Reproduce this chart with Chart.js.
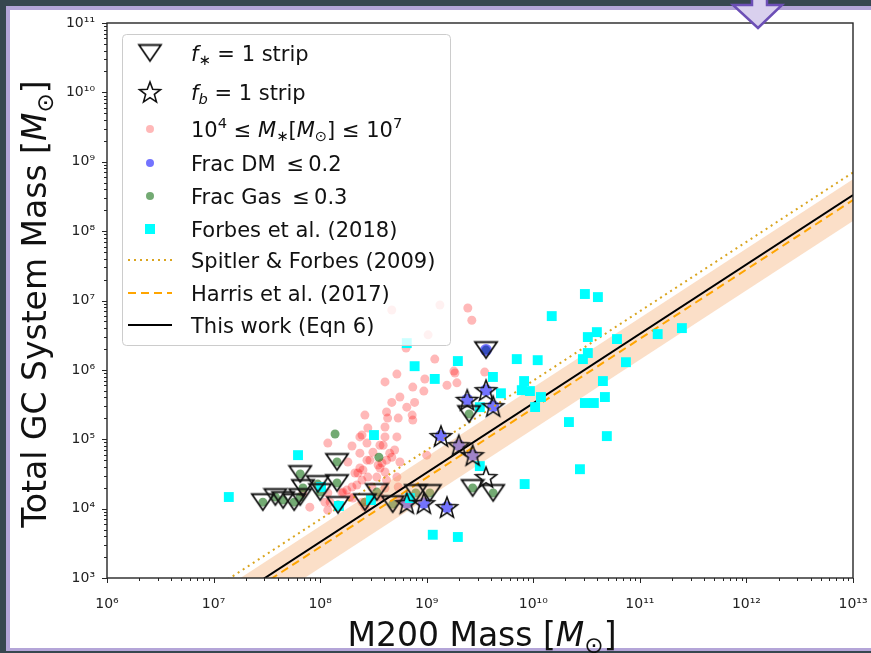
<!DOCTYPE html>
<html>
<head>
<meta charset="utf-8">
<script src="https://cdn.jsdelivr.net/npm/chart.js@4.4.1/dist/chart.umd.min.js"></script>
<style>
  html, body { margin: 0; padding: 0; }
  body { width: 871px; height: 653px; background: #37474f; position: relative; overflow: hidden; }
  #rim { position: absolute; left: 6px; top: 6px; width: 865px; height: 645px; background: #b4a5d8; }
  #panel { position: absolute; left: 10px; top: 10px; width: 861px; height: 638px; background: #fff; }
  #chart { position: absolute; left: 0; top: 0; }
  #arrow { position: absolute; left: 0; top: 0; }
</style>
</head>
<body>
<div id="rim"></div>
<div id="panel"></div>
<canvas id="chart" width="871" height="653"></canvas>
<svg id="arrow" width="871" height="40"><polygon points="752,-4 752,5 733,5 758,28 782,5 767,5 767,-4" fill="#d9d0ee" stroke="#6c4fb6" stroke-width="2.5"/></svg>
<script>
// decades shown on each axis and their labels
const xTickExps = [6, 7, 8, 9, 10, 11, 12, 13];
const xTickLabels = ['10⁶', '10⁷', '10⁸', '10⁹', '10¹⁰', '10¹¹', '10¹²', '10¹³'];
const yTickExps = [3, 4, 5, 6, 7, 8, 9, 10, 11];
const yTickLabels = ['10³', '10⁴', '10⁵', '10⁶', '10⁷', '10⁸', '10⁹', '10¹⁰', '10¹¹'];

// f* = 1 strip (triangles)
const stripStarM200 = [2.9e7, 3.8e7, 4.5e7, 5.7e7, 6.5e7, 6.5e7, 6.9e7, 9.5e7, 1.0e8, 1.44e8, 1.44e8, 1.47e8, 2.63e8, 3.4e8, 4.8e8, 7.9e8, 1.07e9, 3.6e9, 2.5e9, 2.7e9, 4.2e9];
const stripStarMgc = [1.24e4, 1.47e4, 1.33e4, 1.24e4, 1.47e4, 3.15e4, 1.98e4, 2.26e4, 1.73e4, 4.7e4, 2.34e4, 1.13e4, 1.24e4, 1.73e4, 1.16e4, 1.68e4, 1.68e4, 1.93e6, 2.31e5, 1.98e4, 1.68e4];

// fb = 1 strip (stars)
const stripBaryM200 = [3.6e9, 2.4e9, 4.2e9, 1.36e9, 2.0e9, 2.7e9, 3.6e9, 6.5e8, 9.4e8, 1.55e9];
const stripBaryMgc = [5.1e5, 3.7e5, 3.0e5, 1.11e5, 8.2e4, 5.9e4, 2.85e4, 1.2e4, 1.2e4, 1.05e4];

// 1e4 <= M* <= 1e7
const dwarfM200 = [2.43e9, 2.65e9, 1.33e9, 4.7e8, 1.03e9, 6.4e8, 1.19e9, 5.25e8, 4.06e8, 9.6e8,
  7.4e8, 1.84e9, 1.55e9, 1.92e9, 3.5e9, 5.6e8, 4.7e8, 7.7e8, 6.5e8, 4.2e8,
  2.63e8, 4.3e8, 7.3e8, 7.4e8, 2.8e8, 4.06e8, 2.36e8, 4.06e8, 5.25e8, 1.18e8,
  1.99e8, 2.75e8, 3.64e8, 2.36e8, 3.13e8, 4.2e8, 2.75e8, 3.64e8, 2.36e8, 2.8e8,
  3.4e8, 4.06e8, 2.47e8, 4.2e8, 5.25e8, 5.6e8, 5.0e8, 2.12e8, 3.06e8, 1.99e8,
  4.06e8, 5.4e8, 1.6e8, 1.18e8, 2.03e8, 3.64e8, 1.24e8, 5.6e8, 2.63e8, 1.18e8,
  6.9e7, 8.0e7, 4.5e8, 2.47e8, 3.9e8, 2.52e8, 1.82e8, 2.93e8, 3.5e8, 2.21e8,
  1.9e8, 1.64e8, 2.47e8, 3.8e8, 4.7e8, 9.4e8, 5.4e8, 1.8e9, 1.78e8, 1.11e8,
  1.0e9, 2.26e8];
const dwarfMgc = [7.8e6, 5.2e6, 8.6e6, 7.3e6, 3.2e6, 2.06e6, 1.43e6, 8.7e5, 6.7e5, 7.4e5,
  5.65e5, 9.0e5, 6.0e5, 6.5e5, 9.3e5, 4.06e5, 3.4e5, 3.4e5, 2.9e5, 2.47e5,
  2.23e5, 2.02e5, 2.23e5, 1.89e5, 1.45e5, 1.5e5, 1.08e5, 1.08e5, 1.08e5, 8.8e4,
  8.0e4, 8.8e4, 8.2e4, 6.3e4, 6.5e4, 5.0e4, 5.0e4, 3.85e4, 3.85e4, 2.85e4,
  2.85e4, 3.37e4, 2.58e4, 2.58e4, 2.85e4, 4.7e4, 7.0e4, 3.26e4, 2.05e4, 2.05e4,
  1.98e4, 2.05e4, 1.68e4, 1.68e4, 1.42e4, 1.47e4, 1.24e4, 1.33e4, 1.05e4, 9.5e3,
  1.68e4, 1.05e4, 6.3e4, 1.15e5, 8.2e4, 3.6e4, 4.7e4, 5.0e4, 4.25e4, 2.19e4,
  1.47e4, 1.73e4, 1.24e4, 4.54e4, 5.5e4, 4.95e5, 2.02e5, 9.6e5, 1.85e4, 1.24e4,
  5.9e4, 3.26e4];

// Frac DM <= 0.2
const lowDmM200 = [3.6e9, 2.4e9, 4.2e9, 1.36e9, 2.0e9, 2.7e9, 6.5e8, 9.4e8, 1.55e9, 3.6e9];
const lowDmMgc = [5.1e5, 3.7e5, 3.0e5, 1.11e5, 8.2e4, 5.9e4, 1.2e4, 1.2e4, 1.05e4, 1.93e6];

// Frac Gas <= 0.3
const lowGasM200 = [2.9e7, 3.8e7, 4.5e7, 5.7e7, 6.5e7, 6.5e7, 6.9e7, 9.5e7, 1.0e8, 1.44e8, 1.44e8, 1.47e8, 2.63e8, 3.4e8, 4.8e8, 7.9e8, 1.07e9, 3.6e9, 2.5e9, 2.7e9, 4.2e9, 1.38e8, 3.56e8];
const lowGasMgc = [1.24e4, 1.47e4, 1.33e4, 1.24e4, 1.47e4, 3.15e4, 1.98e4, 2.26e4, 1.73e4, 4.7e4, 2.34e4, 1.13e4, 1.24e4, 1.73e4, 1.16e4, 1.68e4, 1.68e4, 1.93e6, 2.31e5, 1.98e4, 1.68e4, 1.19e5, 5.5e4];

// Forbes et al. (2018)
const forbesM200 = [1.39e7, 6.2e7, 1.02e8, 1.5e8, 3.0e8, 3.2e8, 6.95e8, 7.7e8, 1.19e9, 1.96e9,
  6.5e8, 4.18e9, 3.15e9, 4.97e9, 7.0e9, 1.1e10, 3.15e9, 1.14e9, 1.96e9, 3.05e10,
  4.04e10, 1.49e10, 3.95e10, 3.25e10, 6.1e10, 1.47e11, 2.48e11, 3.25e10, 2.92e10, 7.4e10,
  8.2e9, 9.3e9, 7.8e9, 1.18e10, 1.04e10, 4.5e10, 4.7e10, 3.05e10, 3.7e10, 2.16e10,
  4.9e10, 2.74e10, 8.3e9];
const forbesMgc = [1.47e4, 5.9e4, 2.05e4, 1.09e4, 1.33e4, 1.15e5, 1.42e4, 1.13e6, 7.4e5, 1.34e6,
  2.43e6, 7.9e5, 2.9e5, 4.6e5, 1.43e6, 1.38e6, 4.1e4, 4.2e3, 3.9e3, 1.24e7,
  1.12e7, 5.96e6, 3.5e6, 2.97e6, 2.78e6, 3.28e6, 4.0e6, 1.75e6, 1.43e6, 1.29e6,
  6.9e5, 4.95e5, 5.1e5, 4.06e5, 2.91e5, 6.9e5, 4.06e5, 3.33e5, 3.33e5, 1.77e5,
  1.11e5, 3.7e4, 2.26e4];

// M_GC = ratio * M200 relations
const relationNames = ['Spitler & Forbes (2009)', 'Harris et al. (2017)', 'This work (Eqn 6)'];
const relationRatios = [7.0e-5, 2.8e-5, 3.3e-5];
const bandRatios = [5.6e-5, 1.4e-5];
const xSpan = [1e6, 1e13];
const ySpan = [1e3, 1e11];

const FONT = '"DejaVu Sans"';
const pink = 'rgba(255,0,0,0.28)';
const blue = 'rgba(0,0,255,0.55)';
const green = 'rgba(0,100,0,0.55)';
const cyan = '#00ffff';

const toPoints = (xs, ys) => xs.map((x, i) => ({x: x, y: ys[i]}));
const relation = (ratio) => xSpan.map(x => ({x: x, y: ratio * x}));
const isDecade = (v) => Math.abs(Math.log10(v) - Math.round(Math.log10(v))) < 1e-6;

function makeTriangle() {
  const c = document.createElement('canvas');
  c.width = 26; c.height = 21;
  const g = c.getContext('2d');
  g.lineWidth = 1.8; g.strokeStyle = '#111';
  g.beginPath(); g.moveTo(2, 2.5); g.lineTo(24, 2.5); g.lineTo(13, 18.5); g.closePath(); g.stroke();
  return c;
}

function makeStar() {
  const c = document.createElement('canvas');
  c.width = 26; c.height = 26;
  const g = c.getContext('2d');
  g.lineWidth = 1.6; g.strokeStyle = '#111';
  g.beginPath();
  for (let k = 0; k < 10; k++) {
    const r = k % 2 ? 4.6 : 11;
    const a = -Math.PI / 2 + k * Math.PI / 5;
    const px = 13 + r * Math.cos(a), py = 14 + r * Math.sin(a);
    if (k) g.lineTo(px, py); else g.moveTo(px, py);
  }
  g.closePath(); g.stroke();
  return c;
}

const triImg = makeTriangle();
const starImg = makeStar();

// rich text: [text, flags] with i = italic, b = subscript, p = superscript
function segFont(flags, size) {
  const s = (flags.includes('b') || flags.includes('p')) ? size * 0.7 : size;
  return (flags.includes('i') ? 'italic ' : '') + s + 'px ' + FONT;
}
function richWidth(ctx, segs, size) {
  let w = 0;
  segs.forEach(([t, f]) => { ctx.font = segFont(f, size); w += ctx.measureText(t).width; });
  return w;
}
function drawRich(ctx, segs, x, y, size) {
  ctx.textBaseline = 'alphabetic';
  ctx.textAlign = 'left';
  segs.forEach(([t, f]) => {
    ctx.font = segFont(f, size);
    let dy = 0;
    if (f.includes('b')) dy = size * 0.22;
    if (f.includes('p')) dy = -size * 0.42;
    ctx.fillText(t, x, y + dy);
    x += ctx.measureText(t).width;
  });
}

const xTitle = [['M200 Mass [', ''], ['M', 'i'], ['⊙', 'b'], [']', '']];
const yTitle = [['Total GC System Mass [', ''], ['M', 'i'], ['⊙', 'b'], [']', '']];

const legendRows = [
  {kind: 'tri', text: [['f', 'i'], ['∗', 'b'], [' = 1 strip', '']]},
  {kind: 'star', text: [['f', 'i'], ['b', 'ib'], [' = 1 strip', '']]},
  {kind: 'dot', color: pink, text: [['10', ''], ['4', 'p'], [' ≤ ', ''], ['M', 'i'], ['∗', 'b'], ['[', ''], ['M', 'i'], ['⊙', 'b'], ['] ≤ 10', ''], ['7', 'p']]},
  {kind: 'dot', color: blue, text: [['Frac DM \u2009≤\u20090.2', '']]},
  {kind: 'dot', color: green, text: [['Frac Gas \u2009≤\u20090.3', '']]},
  {kind: 'square', color: cyan, text: [['Forbes et al. (2018)', '']]},
  {kind: 'line', color: '#daa520', dash: [2, 4], text: [[relationNames[0], '']]},
  {kind: 'line', color: '#ffa500', dash: [8, 5], text: [[relationNames[1], '']]},
  {kind: 'line', color: '#000000', dash: [], text: [[relationNames[2], '']]}
];
const legendRowY = [53, 92, 129, 163, 196, 229, 260, 293, 325];

const decorations = {
  id: 'decorations',
  afterDraw(chart) {
    const ctx = chart.ctx;
    const {left, right, top, bottom} = chart.chartArea;
    const xs = chart.scales.x, ys = chart.scales.y;
    ctx.save();

    // tick marks
    ctx.strokeStyle = '#262626';
    ctx.lineWidth = 1;
    xs.ticks.forEach(t => {
      const px = Math.round(xs.getPixelForValue(t.value)) + 0.5;
      const len = isDecade(t.value) ? 5 : 3;
      ctx.beginPath(); ctx.moveTo(px, bottom); ctx.lineTo(px, bottom + len); ctx.stroke();
    });
    ys.ticks.forEach(t => {
      const py = Math.round(ys.getPixelForValue(t.value)) + 0.5;
      const len = isDecade(t.value) ? 5 : 3;
      ctx.beginPath(); ctx.moveTo(left, py); ctx.lineTo(left - len, py); ctx.stroke();
    });

    // frame
    ctx.lineWidth = 1.4;
    ctx.strokeRect(left, top, right - left, bottom - top);

    // axis titles
    ctx.fillStyle = '#111';
    const xw = richWidth(ctx, xTitle, 33);
    drawRich(ctx, xTitle, (left + right) / 2 + 2 - xw / 2, 646, 33);
    const yw = richWidth(ctx, yTitle, 33);
    ctx.save();
    ctx.translate(46, 304);
    ctx.rotate(-Math.PI / 2);
    drawRich(ctx, yTitle, -yw / 2, 0, 33);
    ctx.restore();

    // legend box
    ctx.beginPath();
    ctx.roundRect(122.5, 34.5, 328, 311, 4);
    ctx.fillStyle = 'rgba(255,255,255,0.8)';
    ctx.fill();
    ctx.strokeStyle = '#cccccc';
    ctx.lineWidth = 1;
    ctx.stroke();

    legendRows.forEach((row, i) => {
      const y = legendRowY[i];
      const mx = 150;
      if (row.kind === 'tri') ctx.drawImage(triImg, mx - triImg.width / 2, y - triImg.height / 2);
      if (row.kind === 'star') ctx.drawImage(starImg, mx - starImg.width / 2, y - starImg.height / 2);
      if (row.kind === 'dot') {
        ctx.beginPath(); ctx.arc(mx, y, 4, 0, Math.PI * 2);
        ctx.fillStyle = row.color; ctx.fill();
      }
      if (row.kind === 'square') {
        ctx.fillStyle = row.color; ctx.fillRect(mx - 5, y - 5, 10, 10);
      }
      if (row.kind === 'line') {
        ctx.beginPath(); ctx.setLineDash(row.dash);
        ctx.strokeStyle = row.color; ctx.lineWidth = 2;
        ctx.moveTo(128, y); ctx.lineTo(172, y); ctx.stroke();
        ctx.setLineDash([]);
      }
      ctx.fillStyle = '#111';
      drawRich(ctx, row.text, 191, y + 7.6, 21);
    });

    ctx.restore();
  }
};

function decadeTicks(exps) {
  const ticks = [];
  exps.forEach((e, i) => {
    const last = i === exps.length - 1;
    for (let m = 1; m <= (last ? 1 : 9); m++) ticks.push({value: m * Math.pow(10, e)});
  });
  return ticks;
}

function tickLabel(exps, labels) {
  return (value) => {
    if (!isDecade(value)) return '';
    const k = exps.indexOf(Math.round(Math.log10(value)));
    return k >= 0 ? labels[k] : '';
  };
}

const datasets = [
  {label: 'f* = 1 strip', data: toPoints(stripStarM200, stripStarMgc), pointStyle: triImg, pointRadius: 10, order: 1},
  {label: 'fb = 1 strip', data: toPoints(stripBaryM200, stripBaryMgc), pointStyle: starImg, pointRadius: 10, order: 0},
  {label: '1e4 <= M* <= 1e7', data: toPoints(dwarfM200, dwarfMgc), pointStyle: 'circle', pointRadius: 4.5,
    backgroundColor: pink, borderWidth: 0, order: 7},
  {label: 'Frac DM <= 0.2', data: toPoints(lowDmM200, lowDmMgc), pointStyle: 'circle', pointRadius: 6,
    backgroundColor: blue, borderWidth: 0, order: 5},
  {label: 'Frac Gas <= 0.3', data: toPoints(lowGasM200, lowGasMgc), pointStyle: 'circle', pointRadius: 4.5,
    backgroundColor: green, borderWidth: 0, order: 6},
  {label: 'Forbes et al. (2018)', data: toPoints(forbesM200, forbesMgc), pointStyle: 'rect', pointRadius: 7,
    backgroundColor: cyan, borderWidth: 0, order: 2},
  {type: 'line', label: 'band upper', data: relation(bandRatios[0]), fill: '+1',
    backgroundColor: 'rgba(244,164,96,0.35)', borderWidth: 0, pointRadius: 0, clip: 0, order: 4},
  {type: 'line', label: 'band lower', data: relation(bandRatios[1]), fill: false,
    borderWidth: 0, pointRadius: 0, clip: 0, order: 4},
  {type: 'line', label: relationNames[0], data: relation(relationRatios[0]), borderColor: '#daa520',
    borderDash: [2, 4], borderWidth: 2, pointRadius: 0, fill: false, clip: 0, order: 3},
  {type: 'line', label: relationNames[1], data: relation(relationRatios[1]), borderColor: '#ffa500',
    borderDash: [8, 5], borderWidth: 2, pointRadius: 0, fill: false, clip: 0, order: 3},
  {type: 'line', label: relationNames[2], data: relation(relationRatios[2]), borderColor: '#000000',
    borderWidth: 2, pointRadius: 0, fill: false, clip: 0, order: 3}
];

new Chart(document.getElementById('chart'), {
  type: 'scatter',
  data: {datasets: datasets},
  plugins: [decorations],
  options: {
    responsive: false,
    animation: false,
    devicePixelRatio: 1,
    events: [],
    layout: {padding: {left: 0, right: 18, top: 23, bottom: 0}},
    plugins: {legend: {display: false}, tooltip: {enabled: false}},
    scales: {
      x: {
        type: 'logarithmic',
        min: xSpan[0], max: xSpan[1],
        grid: {display: false, drawTicks: false},
        border: {display: false},
        afterBuildTicks: (scale) => { scale.ticks = decadeTicks(xTickExps); },
        afterFit: (scale) => { scale.height = 75; scale.paddingLeft = 0; scale.paddingRight = 0; },
        ticks: {autoSkip: false, maxRotation: 0, padding: 18, color: '#222',
          font: {family: 'DejaVu Sans', size: 14}, callback: tickLabel(xTickExps, xTickLabels)}
      },
      y: {
        type: 'logarithmic',
        min: ySpan[0], max: ySpan[1],
        grid: {display: false, drawTicks: false},
        border: {display: false},
        afterBuildTicks: (scale) => { scale.ticks = decadeTicks(yTickExps); },
        afterFit: (scale) => { scale.width = 107; scale.paddingTop = 0; scale.paddingBottom = 0; },
        ticks: {autoSkip: false, padding: 12, color: '#222',
          font: {family: 'DejaVu Sans', size: 14}, callback: tickLabel(yTickExps, yTickLabels)}
      }
    }
  }
});
</script>
</body>
</html>
